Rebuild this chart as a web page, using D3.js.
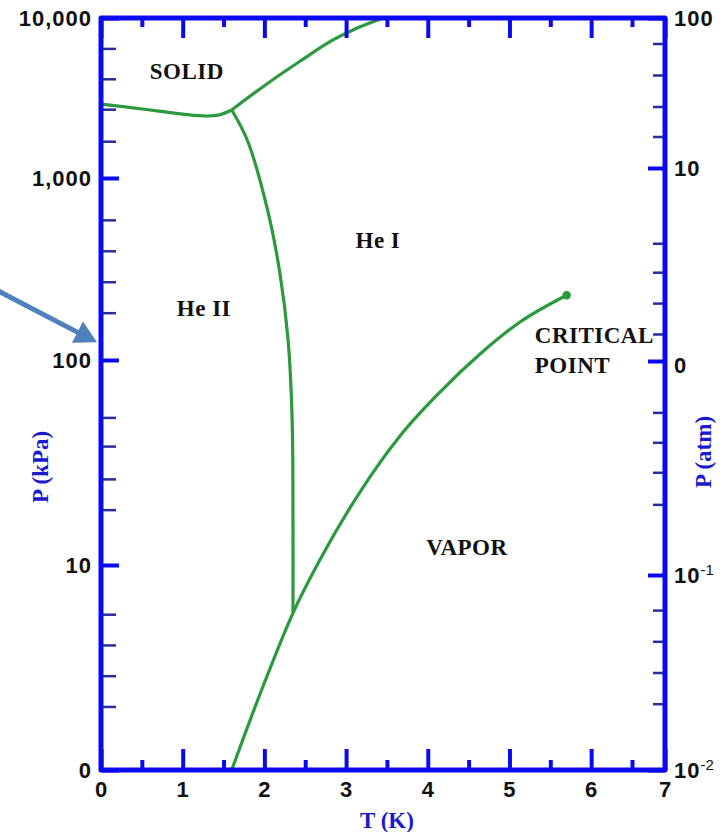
<!DOCTYPE html>
<html>
<head>
<meta charset="utf-8">
<script src="https://cdn.jsdelivr.net/npm/d3@7"></script>
<style>
  body { margin: 0; background: #fff; }
  svg { display: block; }
</style>
</head>
<body>
<div id="chart"></div>
<script>
// ---- data ----
var tempTicks = [0, 1, 2, 3, 4, 5, 6, 7];
var tempHalfTicks = [0.5, 1.5, 2.5, 3.5, 4.5, 5.5, 6.5];
var kpaTicks = [1, 10, 100, 1000, 10000];
var kpaLabels = ['0', '10', '100', '1,000', '10,000'];
var atmTicks = [0.01, 0.1, 1, 10, 100];
var atmLabels = [['10', '-2'], ['10', '-1'], ['0', ''], ['10', ''], ['100', '']];
// minor marks (as log10 of the value), they are not log spaced in the original
var kpaMinorExp = [0.31, 0.46, 0.61, 0.76, 1.27, 1.42, 1.58, 1.72, 2.26, 2.43, 2.60, 2.77, 3.23, 3.43, 3.62, 3.81];
var atmMinorExp = [-1.66, -1.50, -1.34, -1.18, -0.67, -0.52, -0.38, -0.24, 0.14, 0.30, 0.46, 0.61, 1.21, 1.41, 1.62, 1.83];

var meltLowT = [0, 0.5, 1.0, 1.3, 1.45, 1.6];
var meltLowP = [2900, 2700, 2510, 2440, 2480, 2660];
var meltHighT = [1.6, 2.03, 2.44, 2.84, 3.11, 3.42];
var meltHighP = [2660, 3870, 5383, 7289, 8536, 9860];
var lambdaT = [1.6, 1.79, 2.03, 2.19, 2.29, 2.34, 2.35, 2.35];
var lambdaP = [2660, 1728, 693, 300, 129, 50.9, 16.6, 5.83];
var vaporT = [1.6, 1.98, 2.35, 2.68, 3.17, 3.66, 4.15, 4.64, 5.13, 5.7];
var vaporP = [1, 2.54, 5.83, 10.6, 22.7, 42.6, 69.8, 107.9, 161.8, 227];
var criticalT = 5.7, criticalP = 227;

var regionNames = ['SOLID', 'He II', 'He I', 'VAPOR'];
var regionT = [1.05, 1.26, 3.39, 4.48];
var regionP = [4150, 175, 412, 11.2];

// ---- layout ----
var W = 726, H = 832;
var blue = '#0a0af0', navy = '#2b2b9c', green = '#2b9a3c';

var svg = d3.select('#chart').append('svg')
  .attr('width', W).attr('height', H);

// the hand-drawn original is not perfectly linear, so piecewise scales
var x = d3.scaleLinear().domain([0, 6.5, 7]).range([101, 632, 665]);
var y = d3.scaleLog().domain(kpaTicks).range([770, 565, 360, 178, 18]);
var y2 = d3.scaleLog().domain(atmTicks).range([770, 575, 361, 168, 18]);

function zip(ts, ps) {
  return ts.map(function(t, i) { return [t, ps[i]]; });
}

var smooth = d3.line()
  .x(function(d) { return x(d[0]); })
  .y(function(d) { return y(d[1]); })
  .curve(d3.curveMonotoneX);
var bendy = d3.line()
  .x(function(d) { return x(d[0]); })
  .y(function(d) { return y(d[1]); })
  .curve(d3.curveCatmullRom.alpha(0.5));

svg.append('defs').append('clipPath').attr('id', 'plot')
  .append('rect').attr('x', x(0)).attr('y', y(10000))
  .attr('width', x(7) - x(0)).attr('height', y(1) - y(10000));

// ---- phase boundaries ----
var curves = svg.append('g').attr('clip-path', 'url(#plot)');
[[bendy, zip(meltLowT, meltLowP)], [smooth, zip(meltHighT, meltHighP)],
 [bendy, zip(lambdaT, lambdaP)], [smooth, zip(vaporT, vaporP)]]
  .forEach(function(c) {
    curves.append('path')
      .attr('d', c[0](c[1]))
      .attr('fill', 'none')
      .attr('stroke', green)
      .attr('stroke-width', 3.2)
      .attr('stroke-linejoin', 'round');
  });

svg.append('circle')
  .attr('cx', x(criticalT)).attr('cy', y(criticalP))
  .attr('r', 4.2).attr('fill', green);

// ---- axes ----
function styleAxis(g, col, w) {
  g.select('.domain').remove();
  g.selectAll('.tick line').attr('stroke', col).attr('stroke-width', w);
  g.selectAll('text')
    .attr('fill', '#111')
    .style('font-family', '"Liberation Sans", Arial, sans-serif')
    .style('font-weight', 'bold')
    .style('font-size', '22px')
    .style('letter-spacing', '1px');
}

// bottom
svg.append('g').attr('transform', 'translate(0,' + y(1) + ')')
  .call(d3.axisBottom(x).tickValues(tempTicks).tickSize(-21).tickPadding(11).tickFormat(d3.format('d')))
  .call(styleAxis, blue, 4);
svg.append('g').attr('transform', 'translate(0,' + y(1) + ')')
  .call(d3.axisBottom(x).tickValues(tempHalfTicks).tickSize(-10).tickFormat(''))
  .call(styleAxis, blue, 4);
// top
svg.append('g').attr('transform', 'translate(0,' + y(10000) + ')')
  .call(d3.axisTop(x).tickValues(tempTicks).tickSize(-20).tickFormat(''))
  .call(styleAxis, blue, 4);
svg.append('g').attr('transform', 'translate(0,' + y(10000) + ')')
  .call(d3.axisTop(x).tickValues(tempHalfTicks).tickSize(-9).tickFormat(''))
  .call(styleAxis, blue, 4);

// left (kPa)
svg.append('g').attr('transform', 'translate(' + x(0) + ',0)')
  .call(d3.axisLeft(y).tickValues(kpaTicks).tickSize(-18).tickPadding(9)
    .tickFormat(function(d, i) { return kpaLabels[i]; }))
  .call(styleAxis, blue, 4);
svg.append('g').attr('transform', 'translate(' + x(0) + ',0)')
  .call(d3.axisLeft(y).tickValues(kpaMinorExp.map(function(e) { return Math.pow(10, e); }))
    .tickSize(-15).tickFormat(''))
  .call(styleAxis, navy, 2.5);

// right (atm)
svg.append('g').attr('transform', 'translate(' + x(7) + ',0)')
  .call(d3.axisRight(y2).tickValues(atmTicks).tickSize(-17).tickFormat(''))
  .call(styleAxis, blue, 4);
svg.append('g').attr('transform', 'translate(' + x(7) + ',0)')
  .call(d3.axisRight(y2).tickValues(atmMinorExp.map(function(e) { return Math.pow(10, e); }))
    .tickSize(-12).tickFormat(''))
  .call(styleAxis, navy, 2.5);

var rl = svg.append('g')
  .style('font-family', '"Liberation Sans", Arial, sans-serif')
  .style('font-weight', 'bold')
  .style('font-size', '22px')
  .attr('fill', '#111');
atmTicks.forEach(function(v, i) {
  var t = rl.append('text')
    .attr('x', x(7) + 9).attr('y', y2(v) + (atmLabels[i][0] === '0' ? 4 : 0)).attr('dy', '0.36em')
    .style('letter-spacing', '1px');
  t.append('tspan').text(atmLabels[i][0]);
  if (atmLabels[i][1]) {
    t.append('tspan').attr('dy', '-0.55em').style('font-size', '15px')
      .style('font-weight', 'normal').style('letter-spacing', '0px')
      .text(atmLabels[i][1]);
  }
});

// frame
svg.append('rect')
  .attr('x', x(0)).attr('y', y(10000))
  .attr('width', x(7) - x(0)).attr('height', y(1) - y(10000))
  .attr('fill', 'none').attr('stroke', blue).attr('stroke-width', 5)
  .attr('stroke-linejoin', 'round');

// ---- titles ----
var serif = '"Liberation Serif", "Times New Roman", serif';
svg.append('text')
  .attr('x', x(3.5)).attr('y', 828)
  .attr('text-anchor', 'middle')
  .attr('fill', '#1a1acc')
  .style('font-family', serif).style('font-weight', 'bold').style('font-size', '23px')
  .text('T (K)');
svg.append('text')
  .attr('transform', 'translate(48,467) rotate(-90)')
  .attr('text-anchor', 'middle')
  .attr('fill', '#1a1acc')
  .style('font-family', serif).style('font-weight', 'bold').style('font-size', '23px')
  .text('P (kPa)');
svg.append('text')
  .attr('transform', 'translate(711,452) rotate(-90)')
  .attr('text-anchor', 'middle')
  .attr('fill', '#1a1acc')
  .style('font-family', serif).style('font-weight', 'bold').style('font-size', '23px')
  .text('P (atm)');

// ---- region labels ----
var lab = svg.append('g')
  .style('font-family', serif).style('font-weight', 'bold').style('font-size', '23px')
  .style('letter-spacing', '0.5px')
  .attr('fill', '#111');
regionNames.forEach(function(n, i) {
  lab.append('text')
    .attr('x', x(regionT[i])).attr('y', y(regionP[i]))
    .attr('text-anchor', 'middle')
    .text(n);
});
lab.append('text').attr('x', x(5.31)).attr('y', y(124)).text('CRITICAL');
lab.append('text').attr('x', x(5.31)).attr('y', y(86.5)).text('POINT');

// ---- pointer arrow at the left ----
var tipX = x(0) - 4, tipY = y(125);
var ang = Math.atan2(52, 100);
var len = 120, head = 22, hw = 12;
var bx = tipX - head * Math.cos(ang), by = tipY - head * Math.sin(ang);
svg.append('line')
  .attr('x1', tipX - len * Math.cos(ang)).attr('y1', tipY - len * Math.sin(ang))
  .attr('x2', bx + 3 * Math.cos(ang)).attr('y2', by + 3 * Math.sin(ang))
  .attr('stroke', '#4f81bd').attr('stroke-width', 5);
svg.append('path')
  .attr('d', 'M' + tipX + ',' + tipY +
    'L' + (bx + hw * Math.sin(ang)) + ',' + (by - hw * Math.cos(ang)) +
    'L' + (bx - hw * Math.sin(ang)) + ',' + (by + hw * Math.cos(ang)) + 'Z')
  .attr('fill', '#4f81bd');
</script>
</body>
</html>
